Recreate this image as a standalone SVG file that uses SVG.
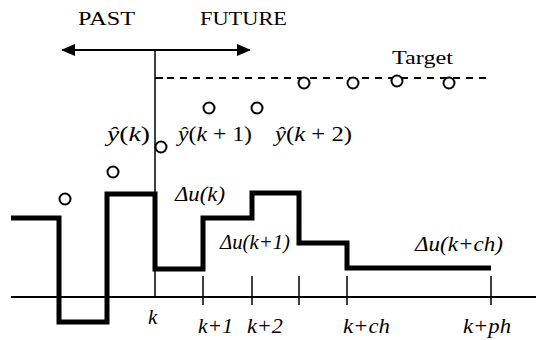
<svg xmlns="http://www.w3.org/2000/svg" width="536" height="340" viewBox="0 0 536 340">
<defs>
<marker id="ah" viewBox="0 0 14 12" refX="13" refY="6" markerWidth="14" markerHeight="12" markerUnits="userSpaceOnUse" orient="auto-start-reverse">
<path d="M0,0 L14,6 L0,12 Z" fill="#000"/>
</marker>
</defs>
<rect width="536" height="340" fill="#fff"/>
<g id="axes" stroke="#000" fill="none">
<line x1="11" y1="297" x2="536" y2="297" stroke-width="2"/>
<line x1="155" y1="50" x2="155" y2="297" stroke-width="1.5"/>
<line x1="203" y1="276" x2="203" y2="305" stroke-width="1.5"/>
<line x1="252" y1="276" x2="252" y2="305" stroke-width="1.5"/>
<line x1="299" y1="276" x2="299" y2="305" stroke-width="1.5"/>
<line x1="347" y1="276" x2="347" y2="305" stroke-width="1.5"/>
<line x1="491" y1="276" x2="491" y2="305" stroke-width="1.5"/>
</g>
<g id="connectors">
<line x1="62" y1="50" x2="250" y2="50" stroke="#000" stroke-width="2" marker-start="url(#ah)" marker-end="url(#ah)"/>
<line x1="155" y1="78" x2="163" y2="78" stroke="#000" stroke-width="2"/>
<line x1="167" y1="78" x2="486" y2="78" stroke="#000" stroke-width="2" stroke-dasharray="7,6"/>
</g>
<g id="control">
<polyline points="11,218 59,218 59,322 107,322 107,194 155,194 155,269 203,269 203,218 252,218 252,193 299,193 299,243 347,243 347,268 491,268" fill="none" stroke="#000" stroke-width="5" stroke-linejoin="miter"/>
</g>
<g id="points" stroke="#000" stroke-width="2" fill="#fff">
<circle cx="65" cy="199" r="5.5"/>
<circle cx="113" cy="172" r="5.5"/>
<circle cx="161" cy="147" r="5.5"/>
<circle cx="209" cy="108" r="5.5"/>
<circle cx="257" cy="108" r="5.5"/>
<circle cx="304" cy="83" r="5.5"/>
<circle cx="353" cy="83" r="5.5"/>
<circle cx="397" cy="81" r="5.5"/>
<circle cx="449" cy="83" r="5.5"/>
</g>
<g id="labels">
<text font-family="Liberation Serif" font-size="19" x="78" y="25" textLength="57" lengthAdjust="spacingAndGlyphs">PAST</text>
<text font-family="Liberation Serif" font-size="19" x="200" y="25" textLength="87" lengthAdjust="spacingAndGlyphs">FUTURE</text>
<text font-family="Liberation Serif" font-size="19" x="392" y="64" textLength="61" lengthAdjust="spacingAndGlyphs">Target</text>
<text font-family="Liberation Serif" font-size="22" x="107" y="141" textLength="43" lengthAdjust="spacingAndGlyphs"><tspan font-style="italic">&#375;</tspan>(<tspan font-style="italic">k</tspan>)</text>
<text font-family="Liberation Serif" font-size="22" x="178" y="141" textLength="74" lengthAdjust="spacingAndGlyphs"><tspan font-style="italic">&#375;</tspan>(<tspan font-style="italic">k</tspan> + 1)</text>
<text font-family="Liberation Serif" font-size="22" x="275" y="141" textLength="77" lengthAdjust="spacingAndGlyphs"><tspan font-style="italic">&#375;</tspan>(<tspan font-style="italic">k</tspan> + 2)</text>
<text font-family="Liberation Serif" font-size="20" font-style="italic" x="175" y="201" textLength="50" lengthAdjust="spacingAndGlyphs">&#916;u(k)</text>
<text font-family="Liberation Serif" font-size="20" font-style="italic" x="220" y="249" textLength="70" lengthAdjust="spacingAndGlyphs">&#916;u(k+1)</text>
<text font-family="Liberation Serif" font-size="20" font-style="italic" x="415" y="251" textLength="88" lengthAdjust="spacingAndGlyphs">&#916;u(k+ch)</text>
<text font-family="Liberation Serif" font-size="21" font-style="italic" x="148" y="324">k</text>
<text font-family="Liberation Serif" font-size="21" font-style="italic" x="198" y="333" textLength="35" lengthAdjust="spacingAndGlyphs">k+1</text>
<text font-family="Liberation Serif" font-size="21" font-style="italic" x="247" y="333" textLength="36" lengthAdjust="spacingAndGlyphs">k+2</text>
<text font-family="Liberation Serif" font-size="21" font-style="italic" x="343" y="333" textLength="47" lengthAdjust="spacingAndGlyphs">k+ch</text>
<text font-family="Liberation Serif" font-size="21" font-style="italic" x="463" y="333" textLength="48" lengthAdjust="spacingAndGlyphs">k+ph</text>
</g>
</svg>
